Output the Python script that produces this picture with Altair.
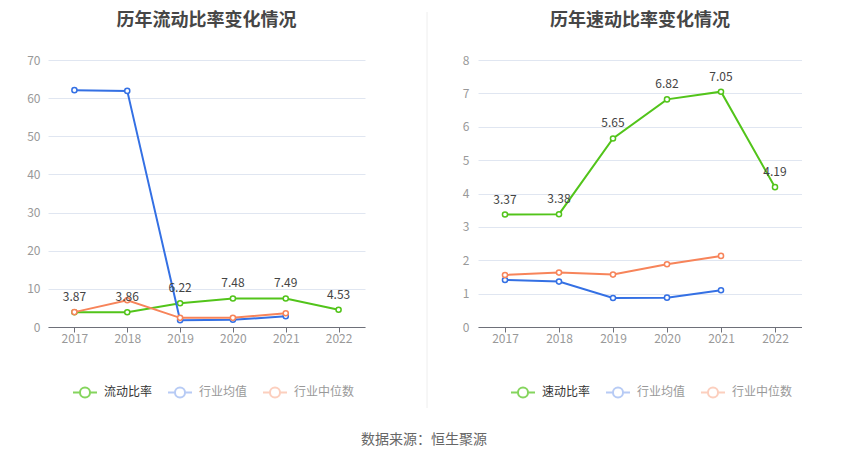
import altair as alt
import pandas as pd

years = ["2017", "2018", "2019", "2020", "2021", "2022"]

left_title = "历年流动比率变化情况"
left_names = ["流动比率", "行业均值", "行业中位数"]
current_ratio = [3.87, 3.86, 6.22, 7.48, 7.49, 4.53]
current_avg = [62.1, 61.9, 1.8, 1.9, 2.8, None]
current_median = [3.9, 7.0, 2.4, 2.4, 3.6, None]

right_title = "历年速动比率变化情况"
right_names = ["速动比率", "行业均值", "行业中位数"]
quick_ratio = [3.37, 3.38, 5.65, 6.82, 7.05, 4.19]
quick_avg = [1.41, 1.36, 0.87, 0.88, 1.10, None]
quick_median = [1.56, 1.63, 1.57, 1.88, 2.13, None]

left_ticks = [0, 10, 20, 30, 40, 50, 60, 70]
right_ticks = [0, 1, 2, 3, 4, 5, 6, 7, 8]

source_text = "数据来源：恒生聚源"

line_colors = ["#52c41a", "#3470e4", "#f7845a"]
legend_colors = ["#52c41a", "#9ab6f1", "#fbbba3"]
FONT = "Noto Sans CJK SC"

SYMBOL = ("M-1,0L-0.42,0M0.42,0L1,0M-0.42,0"
          "A0.42,0.42,0,1,1,0.42,0A0.42,0.42,0,1,1,-0.42,0Z")


def panel(title, names, values_list, ticks, width, legend_x, label_pad):
    rows = []
    for name, vals in zip(names, values_list):
        for yr, v in zip(years, vals):
            if v is not None:
                rows.append({"year": yr, "series": name, "value": v})
    df = pd.DataFrame(rows)

    x = alt.X("year:O", scale=alt.Scale(domain=years, padding=0.5),
              axis=alt.Axis(title=None, labelAngle=0, grid=False, domainColor="#6E7079",
                            tickColor="#6E7079", tickSize=5, labelPadding=1,
                            labelColor="#999999", labelFontSize=12, labelFont=FONT))
    y = alt.Y("value:Q", scale=alt.Scale(domain=[ticks[0], ticks[-1]], nice=False),
              axis=alt.Axis(title=None, values=ticks, grid=True, gridColor="#E0E6F1",
                            domain=False, ticks=False, labelPadding=label_pad,
                            labelColor="#999999", labelFontSize=12, labelFont=FONT,
                            minExtent=40, maxExtent=40))
    cscale = alt.Scale(domain=names, range=line_colors)

    layers = []
    for name in names:
        sub = alt.Chart(df).transform_filter(alt.datum.series == name)
        layers.append(sub.mark_line(strokeWidth=2).encode(
            x=x, y=y, color=alt.Color("series:N", scale=cscale, legend=None)))
        layers.append(sub.mark_point(filled=False, fill="white", fillOpacity=1, opacity=1,
                                     strokeWidth=1.5, size=26).encode(
            x=x, y=y, color=alt.Color("series:N", scale=cscale, legend=None)))
    layers.append(alt.Chart(df).transform_filter(alt.datum.series == names[0]).mark_text(
        dy=-15, fontSize=12, color="#444444", font=FONT).encode(
        x=x, y=y, text=alt.Text("value:Q", format=".2f")))
    layers.append(alt.Chart(df).transform_filter("false").mark_point(
        filled=False, fill="white", strokeWidth=2).encode(
        x=x, y=y,
        stroke=alt.Stroke("series:N", scale=alt.Scale(domain=names, range=legend_colors),
                          legend=alt.Legend(title=None, orient="none", direction="horizontal",
                                            legendX=legend_x, legendY=319,
                                            symbolType=SYMBOL, symbolSize=576,
                                            symbolStrokeWidth=2, symbolFillColor="white",
                                            labelFont=FONT, labelFontSize=12,
                                            labelColor={"expr": "datum.label == '%s' ? '#333333' : '#999999'" % names[0]},
                                            labelOffset=6, columnPadding=11, padding=0))))
    return alt.layer(*layers).resolve_scale(stroke="independent").properties(
        width=width, height=267,
        title=alt.TitleParams(title, anchor="middle", fontSize=18, fontWeight="bold",
                              color="#464646", font=FONT, offset=24))


left = panel(left_title, left_names, [current_ratio, current_avg, current_median],
             left_ticks, 317, 24, 8)
right = panel(right_title, right_names, [quick_ratio, quick_avg, quick_median],
              right_ticks, 324, 32, 9)

separator = alt.Chart(pd.DataFrame({"k": [0]})).mark_rule(color="#eeeeee", strokeWidth=1).encode(
    x=alt.value(52), y=alt.value(-48), y2=alt.value(348)).properties(width=53, height=267)

chart = alt.hconcat(left, separator, right, spacing=10).resolve_scale(
    color="independent", stroke="independent").properties(
    padding={"left": 0, "top": 3, "right": 0, "bottom": 0},
    title=alt.TitleParams(source_text, orient="bottom", anchor="middle", fontSize=14,
                          fontWeight="normal", color="#666666", font=FONT, offset=24, dx=19)
).configure_view(stroke=None)

chart.save("out.html", embed_options={"renderer": "svg", "actions": False})
